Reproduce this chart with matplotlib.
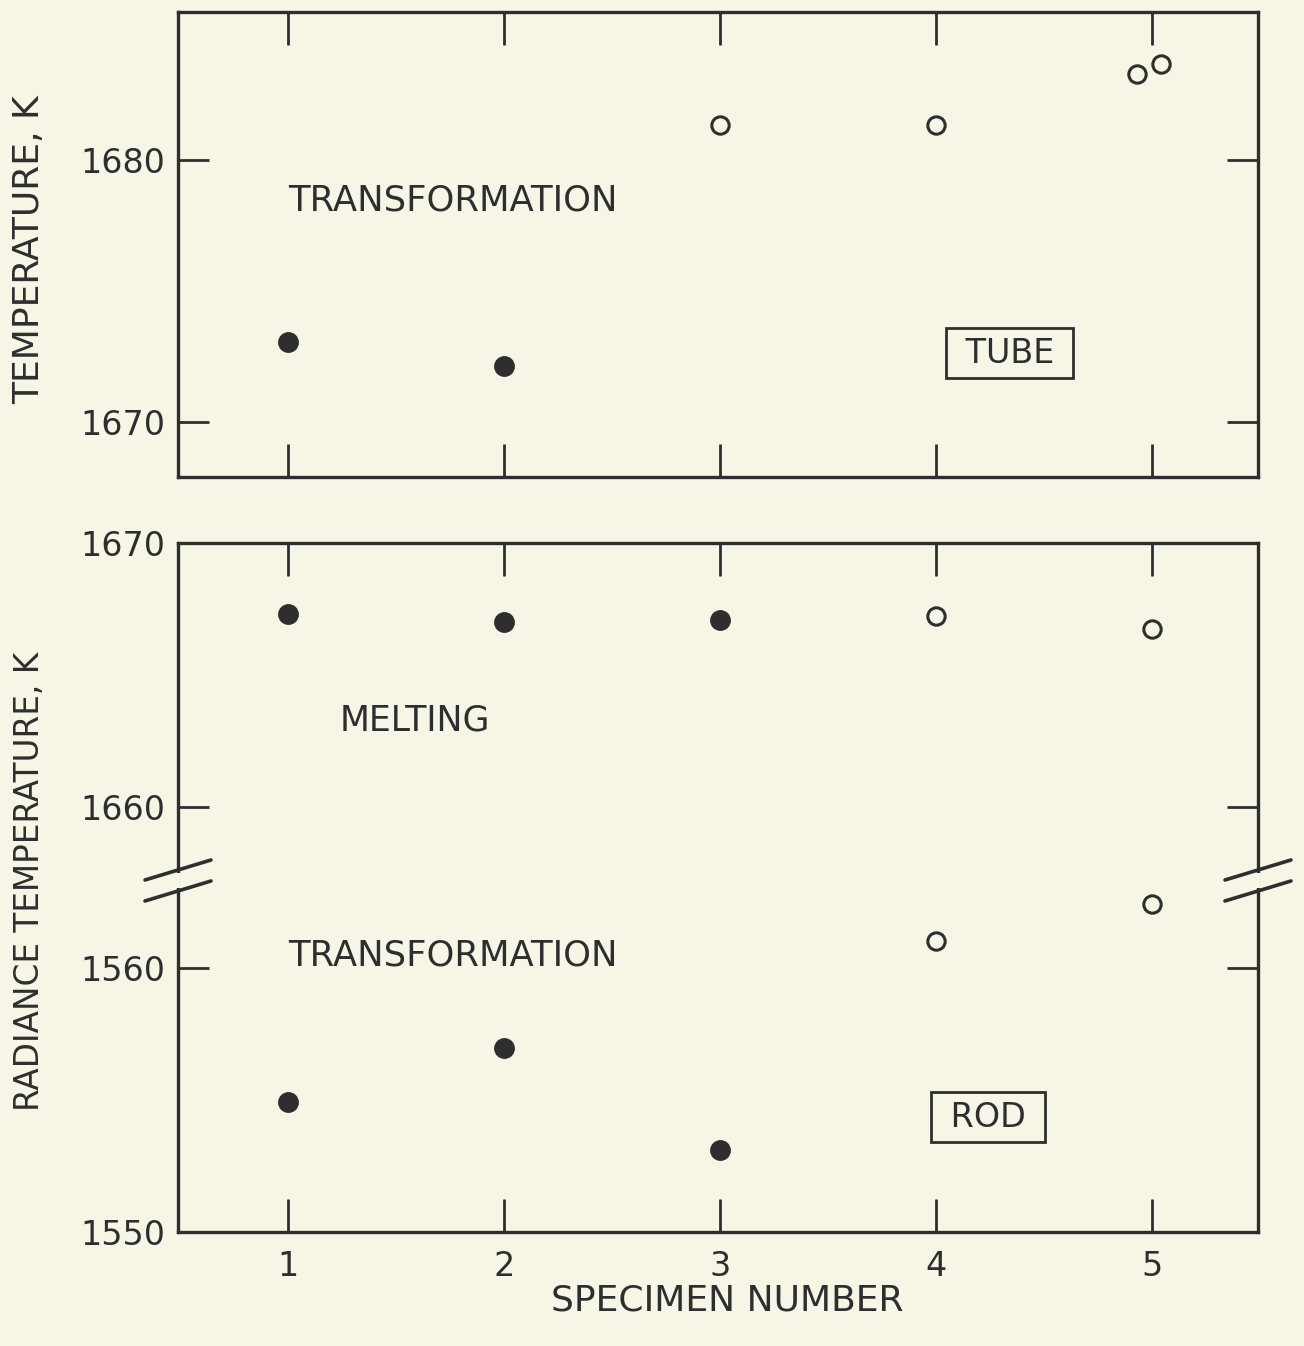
#!/usr/bin/env python3
"""Transformation and melting radiance temperatures for tube and rod specimens."""
import matplotlib

matplotlib.use("Agg")
import matplotlib.pyplot as plt
import numpy as np

INK = "#2e2e2e"
PAPER = "#f7f5e6"
FONT = "DejaVu Sans"

# tube specimens: transformation only
tube_solid_x = [1, 2]
tube_solid_t = [1673.05, 1672.15]
tube_open_x = [3, 4, 4.93, 5.04]
tube_open_t = [1681.35, 1681.35, 1683.3, 1683.65]

# rod specimens: melting (upper segment) and transformation (lower segment)
rod_melt_solid_x = [1, 2, 3]
rod_melt_solid_t = [1667.3, 1667.0, 1667.1]
rod_melt_open_x = [4, 5]
rod_melt_open_t = [1667.25, 1666.75]
rod_trans_solid_x = [1, 2, 3]
rod_trans_solid_t = [1554.9, 1556.95, 1553.1]
rod_trans_open_x = [4, 5]
rod_trans_open_t = [1561.0, 1562.4]

specimens = [1, 2, 3, 4, 5]
tube_ticks = [1670, 1680]
rod_ticks = [1550, 1560, 1660, 1670]

# broken axis for the rod panel: 1550-1563 below the break, 1657-1670 above
BREAK_LO = 1563.3
BREAK_HI = 1657.23
KNOTS_T = [1450.0, BREAK_LO, BREAK_HI, 1770.0]
KNOTS_U = [-100.0, BREAK_LO - 1550, BREAK_LO - 1550 + 1e-3, BREAK_LO - 1550 + 1e-3 + (1770.0 - BREAK_HI)]


def broken_forward(t):
    return np.interp(t, KNOTS_T, KNOTS_U)


def broken_inverse(u):
    return np.interp(u, KNOTS_U, KNOTS_T)


def style_axes(ax):
    ax.set_facecolor(PAPER)
    for spine in ax.spines.values():
        spine.set_color(INK)
        spine.set_linewidth(2.4)
    ax.tick_params(axis="both", which="major", direction="in", color=INK, width=2.0,
                   labelcolor=INK, labelsize=24)
    ax.tick_params(axis="x", length=24, top=True, bottom=True, pad=13)
    ax.tick_params(axis="y", length=22, left=True, right=True, pad=9)
    for lbl in ax.get_xticklabels() + ax.get_yticklabels():
        lbl.set_family(FONT)


def draw_points(ax, x, t, filled):
    if filled:
        ax.plot(x, t, "o", ms=14, color=INK, mec=INK, ls="none", zorder=5)
    else:
        ax.plot(x, t, "o", ms=12.5, mfc="none", mec=INK, mew=2.2, ls="none", zorder=5)


def boxed_label(ax, x, t, text):
    ax.text(x, t, f" {text} ", fontsize=24, family=FONT, color=INK, ha="center", va="center",
            bbox=dict(boxstyle="square,pad=0.25", fc=PAPER, ec=INK, lw=2.0))


fig = plt.figure(figsize=(13.04, 13.46), dpi=100, facecolor=PAPER)
ax_tube = fig.add_axes([0.1365, 0.6456, 0.8282, 0.3455])
ax_rod = fig.add_axes([0.1365, 0.0847, 0.8282, 0.5119])

# tube panel
draw_points(ax_tube, tube_solid_x, tube_solid_t, True)
draw_points(ax_tube, tube_open_x, tube_open_t, False)
ax_tube.set_xlim(0.49, 5.49)
ax_tube.set_ylim(1667.9, 1685.65)
ax_tube.set_xticks(specimens)
ax_tube.set_xticklabels([])
ax_tube.set_yticks(tube_ticks)
ax_tube.set_yticklabels([str(v) for v in tube_ticks])
style_axes(ax_tube)
ax_tube.text(1.0, 1678.45, "TRANSFORMATION", fontsize=25.5, family=FONT, color=INK, ha="left", va="center")
boxed_label(ax_tube, 4.34, 1672.63, "TUBE")

# rod panel
ax_rod.set_yscale("function", functions=(broken_forward, broken_inverse))
draw_points(ax_rod, rod_melt_solid_x, rod_melt_solid_t, True)
draw_points(ax_rod, rod_melt_open_x, rod_melt_open_t, False)
draw_points(ax_rod, rod_trans_solid_x, rod_trans_solid_t, True)
draw_points(ax_rod, rod_trans_open_x, rod_trans_open_t, False)
ax_rod.set_xlim(0.49, 5.49)
ax_rod.set_ylim(1550, 1670)
ax_rod.set_xticks(specimens)
ax_rod.set_xticklabels([str(s) for s in specimens])
ax_rod.set_yticks(rod_ticks)
ax_rod.set_yticklabels([str(v) for v in rod_ticks])
ax_rod.minorticks_off()
style_axes(ax_rod)
ax_rod.text(1.24, 1663.3, "MELTING", fontsize=25, family=FONT, color=INK, ha="left", va="center")
ax_rod.text(1.0, 1560.45, "TRANSFORMATION", fontsize=25.5, family=FONT, color=INK, ha="left", va="center")
boxed_label(ax_rod, 4.24, 1554.35, "ROD")

# break marks on both spines
u_lo, u_hi = broken_forward(1550), broken_forward(1670)
y_break = (broken_forward(BREAK_LO) - u_lo) / (u_hi - u_lo)
px_w, px_h = 0.8282 * 1304, 0.5119 * 1346
dx, dy, gap = 33 / px_w, 10 / px_h, 21 / px_h
for x0 in (0.0, 1.0):
    ax_rod.plot([x0, x0], [y_break - gap / 2 + 0.004, y_break + gap / 2 - 0.004], color=PAPER, lw=4,
                transform=ax_rod.transAxes, clip_on=False, zorder=6, solid_capstyle="butt")
    for yc in (y_break + gap / 2, y_break - gap / 2):
        ax_rod.plot([x0 - dx, x0 + dx], [yc - dy, yc + dy], color=INK, lw=2.6,
                    transform=ax_rod.transAxes, clip_on=False, zorder=7, solid_capstyle="round")

fig.text(0.0225, 0.8143, "TEMPERATURE, K", rotation=90, fontsize=26, family=FONT, color=INK,
         ha="center", va="center")
fig.text(0.0225, 0.3455, "RADIANCE TEMPERATURE, K", rotation=90, fontsize=23.5, family=FONT, color=INK,
         ha="center", va="center")
fig.text(0.5575, 0.034, "SPECIMEN NUMBER", fontsize=26, family=FONT, color=INK, ha="center", va="center")

fig.savefig("out.png", dpi=100, facecolor=PAPER)
